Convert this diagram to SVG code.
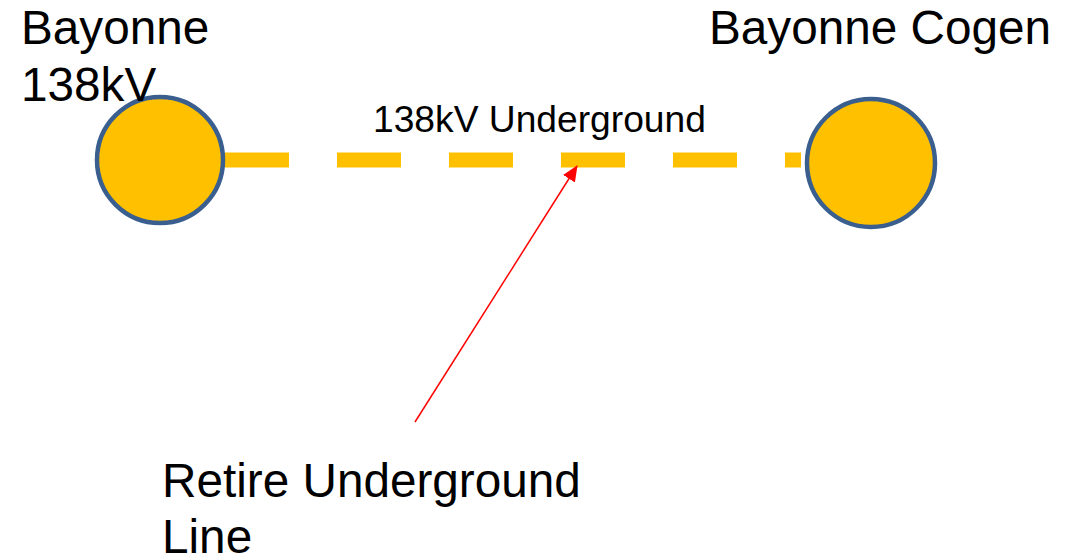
<svg xmlns="http://www.w3.org/2000/svg" width="1074" height="555" viewBox="0 0 1074 555">
<style>
.lbl{font-family:"Liberation Sans",Arial,sans-serif;fill:#000}
.big{font-size:47.7px}
.bus{fill:#FFC000;stroke:#3A5F8F;stroke-width:4.5}
</style>
<defs>
<marker id="ah" markerWidth="16" markerHeight="14" refX="15" refY="7" orient="auto" markerUnits="userSpaceOnUse" viewBox="0 0 16 14">
<path d="M0,0 L16,7 L0,14 z" fill="#FF0000"/>
</marker>
</defs>
<rect width="1074" height="555" fill="#fff"/>
<g id="connectors">
<line x1="225" y1="160" x2="801" y2="160" stroke="#FFC000" stroke-width="15" stroke-dasharray="64 48"/>
<line x1="415" y1="422" x2="577" y2="166" stroke="#FF0000" stroke-width="1.5" marker-end="url(#ah)"/>
</g>
<g id="bayonne138">
<circle class="bus" cx="160" cy="160" r="63"/>
<text class="lbl big" x="21" y="44">Bayonne</text>
<text class="lbl big" x="21" y="101">138kV</text>
</g>
<g id="bayonneCogen">
<circle class="bus" cx="871" cy="163" r="64"/>
<text class="lbl big" x="709" y="44">Bayonne Cogen</text>
</g>
<g id="lineLabel">
<text class="lbl" font-size="37.2" x="373" y="132">138kV Underground</text>
</g>
<g id="note">
<text class="lbl big" x="162" y="497">Retire Underground</text>
<text class="lbl big" x="162" y="553">Line</text>
</g>
</svg>
